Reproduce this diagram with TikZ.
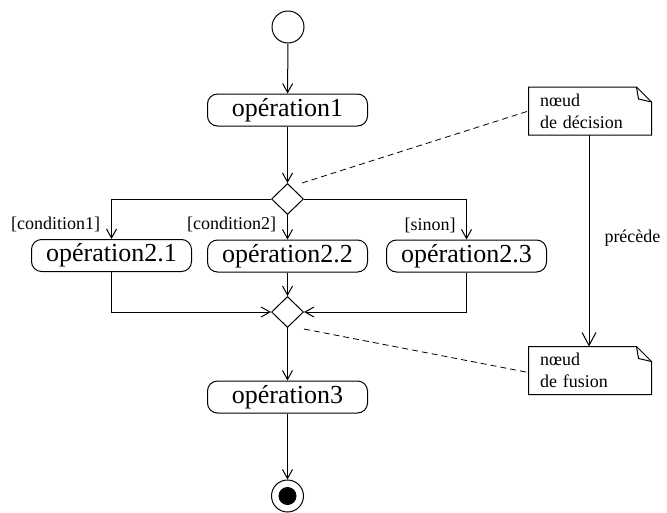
\documentclass[tikz,border=0pt]{standalone}
\usepackage{fontspec}
\setmainfont{Liberation Serif}
\newfontfamily\tms{Liberation Serif}
\usetikzlibrary{arrows.meta,shapes.geometric}
\begin{document}
\begin{tikzpicture}[x=1pt,y=-1pt,line width=1pt,
  act/.style={draw,rounded corners=10pt,minimum width=160pt,minimum height=32pt,inner sep=0pt,font=\tms\fontsize{26}{30}\selectfont},
  dia/.style={draw,diamond,minimum width=32pt,minimum height=31pt,inner sep=0pt},
  flow/.style={-{Straight Barb[length=9pt,width=10pt,line width=1pt]}},
  dep/.style={-{Straight Barb[length=13pt,width=14pt,line width=1pt]}},
  guard/.style={inner sep=0pt,font=\tms\fontsize{18}{22}\selectfont},
  notebox/.style={minimum width=122pt,minimum height=47pt,text width=100pt,inner xsep=11pt,inner ysep=0pt,align=left,font=\tms\fontsize{18}{22}\selectfont},
  notelink/.style={dashed,dash pattern=on 6pt off 4pt}
]
\useasboundingbox (0,0) rectangle (667,512);
% nodes
\node[circle,draw,minimum size=32pt,inner sep=0pt] (start) at (288,27) {};
\node[act] (op1) at (287.5,110) {opération1};
\node[dia] (dec) at (287.5,199) {};
\node[act] (op21) at (111.5,255.5) {opération2.1};
\node[act] (op22) at (287.5,256) {opération2.2};
\node[act] (op23) at (466.5,256) {opération2.3};
\node[dia] (mrg) at (287.5,312) {};
\node[act] (op3) at (287.5,397) {opération3};
\node[circle,draw,minimum size=32pt,inner sep=0pt] (fin) at (287.5,496) {};
\fill (fin.center) circle (9);
% notes
\node[notebox] (nd) at (590,111) {nœud\\de décision};
\node[notebox] (nf) at (590,370.5) {nœud\\de fusion};
\foreach \n in {nd,nf}{
  \draw (\n.south west) -- (\n.north west) -- ([xshift=-15pt]\n.north east)
        -- ([yshift=-15pt]\n.north east) -- (\n.south east) -- cycle;
  \draw ([xshift=-15pt]\n.north east) -- ([xshift=-13pt,yshift=-12pt]\n.north east)
        -- ([yshift=-15pt]\n.north east);
}
% flows
\draw[flow] (start) -- (op1);
\draw[flow] (op1) -- (dec);
\draw[flow] (dec.west) -| (op21.north);
\draw[flow] (dec) -- (op22);
\draw[flow] (dec.east) -| (op23.north);
\draw[flow] (op21.south) |- (mrg.west);
\draw[flow] (op22) -- (mrg);
\draw[flow] (op23.south) |- (mrg.east);
\draw[flow] (mrg) -- (op3);
\draw[flow] (op3) -- (fin);
\draw[dep] (nd.south -| 589,0) -- (nf.north -| 589,0);
% guards
\node[guard,anchor=east] (g1) at (100.5,224) {[condition1]};
\node[guard,anchor=east] (g2) at (276.5,224) {[condition2]};
\node[guard,anchor=east] (g3) at (456,225) {[sinon]};
\node[guard,anchor=west] (pr) at (604,238) {précède};
% dashed links
\coordinate (d1) at (302,183);
\coordinate (d2) at (304,329);
\draw[notelink,line width=0.8pt] (d1) -- (nd.west);
\draw[notelink,line width=0.8pt] (d2) -- ([yshift=-2pt]nf.west);
\end{tikzpicture}
\end{document}
